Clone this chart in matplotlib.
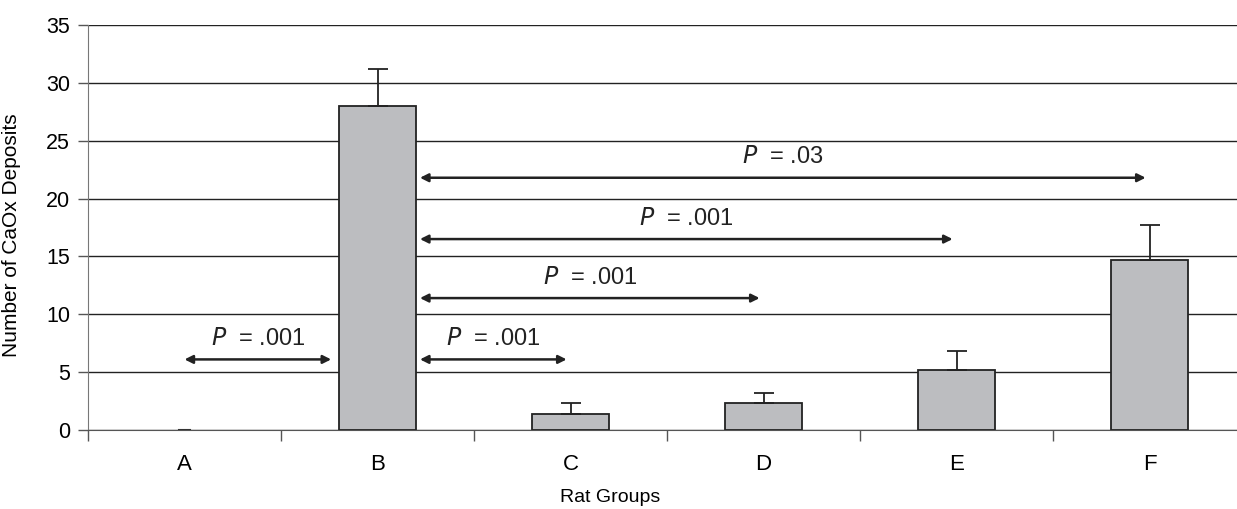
import numpy as np
import matplotlib.pyplot as plt
from matplotlib.ticker import FixedLocator

plt.rcParams['font.family'] = ['Liberation Sans', 'DejaVu Sans']

# group names and mean deposit counts
groups = ['A', 'B', 'C', 'D', 'E', 'F']
means = [0.0, 28.0, 1.4, 2.3, 5.2, 14.7]
# upper error (SE) above each bar
errs = [0.0, 3.2, 0.9, 0.9, 1.6, 3.0]

# comparisons: (from group, to group, arrow height, label)
comps = [
    (0, 1, 6.1, '.001'),
    (1, 2, 6.1, '.001'),
    (1, 3, 11.4, '.001'),
    (1, 4, 16.5, '.001'),
    (1, 5, 21.8, '.03'),
]

fig = plt.figure(figsize=(12.37, 5.09), dpi=100)
ax = fig.add_axes([88/1237, 79/509, 1158/1237, 405/509])

x = np.arange(len(groups))
edges = ['none' if m == 0 else '#222222' for m in means]
ax.bar(x, means, width=0.4, color='#bcbdc0', edgecolor=edges, linewidth=1.3, zorder=3)
ax.errorbar(x[1:], means[1:], yerr=[np.zeros(5), errs[1:]], fmt='none',
            ecolor='#222222', elinewidth=1.3, capsize=7, capthick=1.3, zorder=4)
# group A sits at zero: short dash
ax.plot([x[0] - 0.03, x[0] + 0.03], [0, 0], color='#333333', lw=1.5, zorder=6)

ax.set_xlim(-0.5, 5.5)
ax.set_ylim(0, 35)
ax.set_yticks(np.arange(0, 36, 5))
ax.yaxis.grid(True, color='#222222', lw=1.0, zorder=0)
ax.set_axisbelow(True)

ax.set_xticks(x)
ax.set_xticklabels(groups)
ax.xaxis.set_minor_locator(FixedLocator(np.arange(-0.5, 6, 1)))
ax.tick_params(axis='x', which='major', length=0, pad=17, labelsize=16)
ax.tick_params(axis='x', which='minor', length=8, width=1, color='#555555', direction='out')
ax.tick_params(axis='y', length=7, width=1, color='#555555', labelsize=15.5, pad=6)

for s in ['top', 'right']:
    ax.spines[s].set_visible(False)
ax.spines['left'].set_color('#777777')
ax.spines['bottom'].set_color('#555555')
ax.spines['bottom'].set_zorder(5)

# significance arrows
for a, b, yy, lab in comps:
    x0 = a + 0.22 if a == 1 else a
    x1 = b - 0.24 if b == 1 else b - 0.02
    ax.annotate('', xy=(x1, yy), xytext=(x0, yy),
                arrowprops=dict(arrowstyle='<|-|>', color='#222222', lw=1.8,
                                mutation_scale=12, shrinkA=0, shrinkB=0), zorder=5)
    ax.text((x0 + x1) / 2, yy + 0.8, r'$\it{P}$' + '  = ' + lab,
            ha='center', va='bottom', fontsize=17, color='#222222', zorder=6)

ax.set_ylabel('Number of CaOx Deposits', fontsize=15)
fig.text(610/1237, 3/509, 'Rat Groups', ha='center', va='bottom', fontsize=14)
ax.yaxis.set_label_coords(-0.058, 0.48)

fig.savefig('out.png', dpi=100)
